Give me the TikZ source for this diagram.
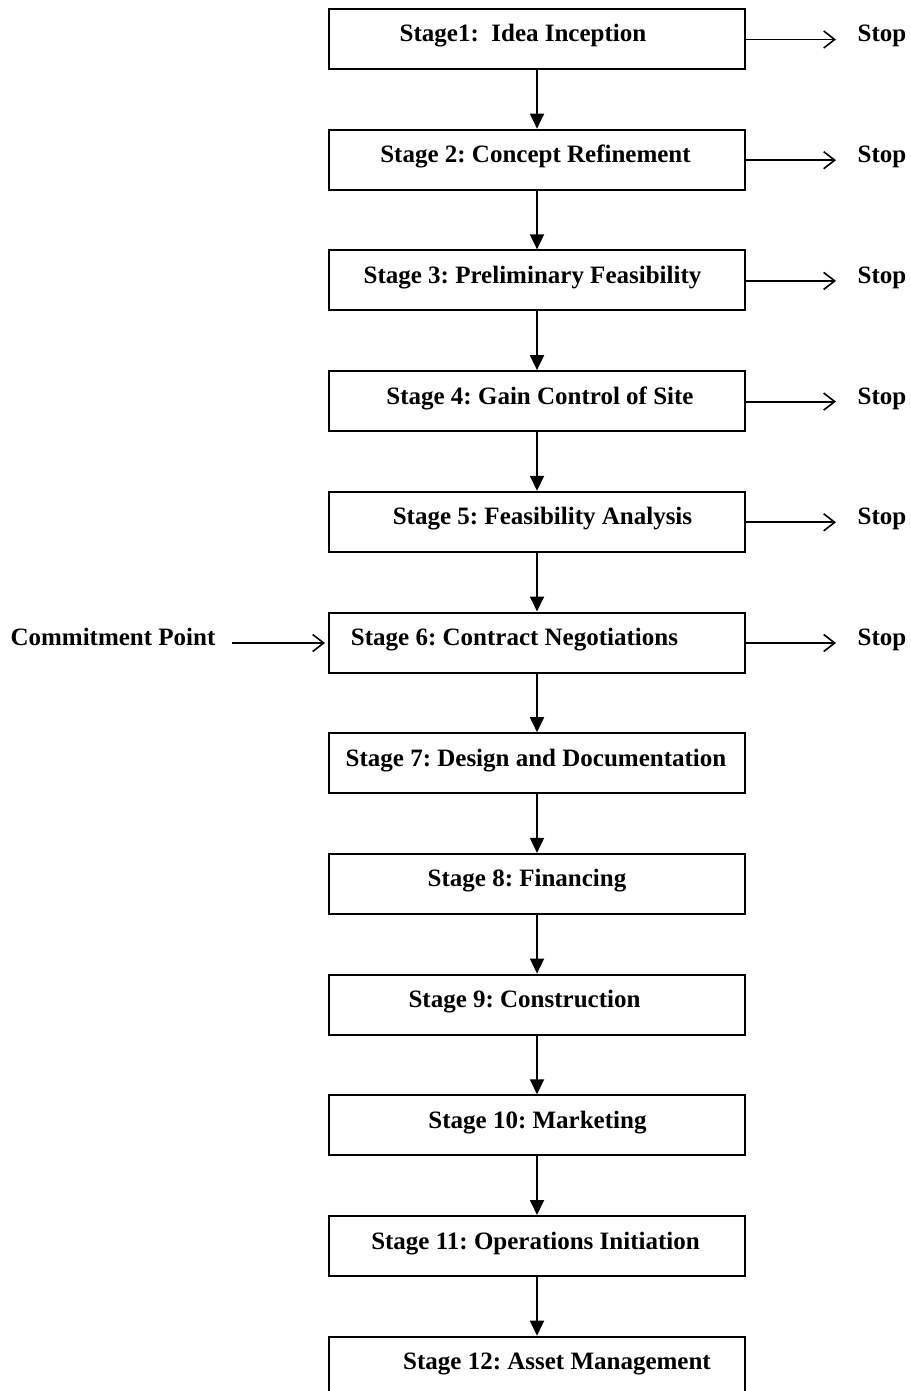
\documentclass[tikz,border=0pt]{standalone}
\usepackage{fontspec}
\setmainfont{Liberation Serif}
\usetikzlibrary{arrows.meta}
\frenchspacing
\begin{document}
\begin{tikzpicture}[x=1pt,y=-1pt,
  box/.style={draw,line width=2pt,minimum width=416pt,minimum height=60pt,inner sep=0pt},
  lbl/.style={font=\fontsize{25}{29}\selectfont\bfseries,inner sep=0pt,anchor=base},
  flow/.style={line width=1.8pt,-{Triangle[length=15pt,width=14pt]}},
  side/.style={line width=1.8pt,-{Straight Barb[length=11pt,width=17pt,line width=1.6pt]}}]
\useasboundingbox (0,0) rectangle (910,1391);
\clip (0,0) rectangle (910,1391);
\foreach \i/\x/\t in {
  1/523/{Stage1:\ \ Idea Inception},
  2/535.5/{Stage 2: Concept Refinement},
  3/532.5/{Stage 3: Preliminary Feasibility},
  4/540/{Stage 4: Gain Control of Site},
  5/542.5/{Stage 5: Feasibility Analysis},
  6/514.5/{Stage 6: Contract Negotiations},
  7/536/{Stage 7: Design and Documentation},
  8/527/{Stage 8: Financing},
  9/524.5/{Stage 9: Construction},
  10/537.5/{Stage 10: Marketing},
  11/535.5/{Stage 11: Operations Initiation},
  12/557/{Stage 12: Asset Management}}{
  \pgfmathsetmacro{\top}{9+120.7*(\i-1)}
  \node[box] (s\i) at (537,\top+30) {};
  \node[lbl] (t\i) at (\x,\top+33) {\t};
}
\foreach \i [evaluate=\i as \j using int(\i+1)] in {1,...,11}{
  \draw[flow] (s\i.south) -- (s\j.north);
}
\foreach \i in {1,...,6}{
  \node[lbl] (st\i) at (882,{9+120.7*(\i-1)+33}) {Stop};
  \coordinate (b\i) at ([yshift=-0.5pt]s\i.east);
  \coordinate (e\i) at ([xshift=90pt]b\i);
  \draw[side] (b\i) -- (e\i);
}
\node[lbl] (cp) at (113,{9+120.7*5+33}) {Commitment Point};
\coordinate (cpa) at ([xshift=-96pt]b6 -| s6.west);
\coordinate (cpe) at ([xshift=-3pt]b6 -| s6.west);
\draw[side] (cpa) -- (cpe);
\end{tikzpicture}
\end{document}
